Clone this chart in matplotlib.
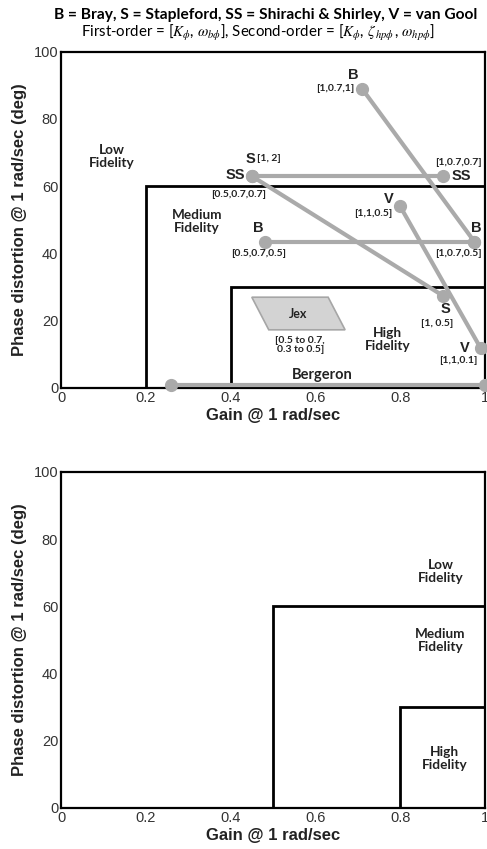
import numpy as np
import matplotlib
matplotlib.use('Agg')
import matplotlib.pyplot as plt
from matplotlib.patches import Polygon

plt.rcParams['mathtext.fontset'] = 'stix'

# Study results: first-order point (a) joined to second-order point (b)
study = ['Bray', 'Bray', 'Shirachi & Shirley', 'Stapleford', 'van Gool', 'Bergeron']
gain_a = [0.71, 0.48, 0.45, 0.45, 0.80, 0.26]
phase_a = [89.0, 43.5, 63.0, 63.0, 54.0, 0.8]
gain_b = [0.975, 0.975, 0.90, 0.90, 0.99, 1.0]
phase_b = [43.5, 43.5, 63.0, 27.5, 11.8, 0.8]

# Jex region (gain, phase)
jex_gain = [0.45, 0.63, 0.67, 0.49]
jex_phase = [27.0, 27.0, 17.3, 17.3]

# Fidelity boundaries [gain corner, phase corner] for each criteria set
top_bounds = [(0.2, 60), (0.4, 30)]
bottom_bounds = [(0.5, 60), (0.8, 30)]

x_ticks = [0, 0.2, 0.4, 0.6, 0.8, 1]
x_ticklabels = ['0', '0.2', '0.4', '0.6', '0.8', '1']
y_ticks = [0, 20, 40, 60, 80, 100]

# text labels: (text, x, y, size, font)
top_labels = [
    ('Low\nFidelity', 0.12, 68.7, 9.8, 'Lato'),
    ('Medium\nFidelity', 0.32, 49.4, 9.8, 'Lato'),
    ('High\nFidelity', 0.77, 14.3, 9.8, 'Lato'),
    ('Bergeron', 0.615, 4.0, 10.5, 'Lato'),
    ('Jex', 0.56, 22.0, 9, 'Lato'),
    ('[0.5 to 0.7,\n0.3 to 0.5]', 0.564, 12.8, 7.5, 'Lato'),
    ('B', 0.69, 93.2, 10.5, 'Liberation Sans'),
    ('[1,0.7,1]', 0.646, 89.2, 7.5, 'Lato'),
    ('S', 0.446, 68.2, 10.5, 'Liberation Sans'),
    ('[1, 2]', 0.49, 68.2, 7.5, 'Lato'),
    ('SS', 0.41, 63.2, 10.5, 'Liberation Sans'),
    ('[0.5,0.7,0.7]', 0.418, 57.4, 7.5, 'Lato'),
    ('[1,0.7,0.7]', 0.937, 67.2, 7.5, 'Lato'),
    ('SS', 0.945, 62.9, 10.5, 'Liberation Sans'),
    ('V', 0.772, 56.2, 10.5, 'Liberation Sans'),
    ('[1,1,0.5]', 0.737, 51.8, 7.5, 'Lato'),
    ('B', 0.465, 47.7, 10.5, 'Liberation Sans'),
    ('[0.5,0.7,0.5]', 0.465, 40.0, 7.5, 'Lato'),
    ('B', 0.98, 47.7, 10.5, 'Liberation Sans'),
    ('[1,0.7,0.5]', 0.937, 40.0, 7.5, 'Lato'),
    ('S', 0.906, 23.4, 10.5, 'Liberation Sans'),
    ('[1, 0.5]', 0.886, 19.3, 7.5, 'Lato'),
    ('V', 0.953, 12.0, 10.5, 'Liberation Sans'),
    ('[1,1,0.1]', 0.937, 8.1, 7.5, 'Lato'),
]
bottom_labels = [
    ('Low\nFidelity', 0.895, 70.3, 9.8, 'Lato'),
    ('Medium\nFidelity', 0.895, 49.8, 9.8, 'Lato'),
    ('High\nFidelity', 0.904, 14.6, 9.8, 'Lato'),
]

gray = '#aaaaaa'

fig = plt.figure(figsize=(4.87, 8.49), dpi=100)
ax1 = fig.add_axes([0.1253, 0.543, 0.8706, 0.3961])
ax2 = fig.add_axes([0.1253, 0.0483, 0.8706, 0.3958])


def setup_axes(ax, bounds, labels):
    ax.set_xlim(0, 1)
    ax.set_ylim(0, 100)
    ax.set_xticks(x_ticks)
    ax.set_xticklabels(x_ticklabels)
    ax.set_yticks(y_ticks)
    ax.tick_params(length=0, pad=2, labelsize=10.5, labelcolor='#333333')
    for t in ax.get_xticklabels() + ax.get_yticklabels():
        t.set_family('Liberation Sans')
    for s in ax.spines.values():
        s.set_linewidth(1.6)
        s.set_color('black')
    for gx, gy in bounds:
        ax.plot([gx, gx, 1], [0, gy, gy], color='black', lw=2.0, zorder=2,
                solid_joinstyle='miter')
    for txt, x, y, size, font in labels:
        ax.text(x, y, txt, ha='center', va='center', fontsize=size,
                fontweight='bold', family=font,
                color='#222222', linespacing=1.1, zorder=5)
    ax.set_xlabel('Gain @ 1 rad/sec', fontsize=12, fontweight='bold',
                  family='Liberation Sans', labelpad=2, color='#222222')
    ax.set_ylabel('Phase distortion @ 1 rad/sec (deg)', fontsize=12,
                  fontweight='bold', family='Liberation Sans', labelpad=5,
                  color='#222222')


setup_axes(ax1, top_bounds, top_labels)
setup_axes(ax2, bottom_bounds, bottom_labels)

# Jex parallelogram
ax1.add_patch(Polygon(np.column_stack([jex_gain, jex_phase]), closed=True,
                      facecolor='#d3d3d3', edgecolor='#a6a6a6', lw=1.2, zorder=3))

# study lines
for i in range(len(study)):
    ax1.plot([gain_a[i], gain_b[i]], [phase_a[i], phase_b[i]], color=gray,
             lw=3.0, marker='o', markersize=8.5, markeredgecolor=gray,
             markerfacecolor=gray, clip_on=False, zorder=4)

fig.text(0.545, 0.982, 'B = Bray, S = Stapleford, SS = Shirachi & Shirley, V = van Gool',
         ha='center', va='center', fontsize=11.2, fontweight='bold', family='Lato')
fig.text(0.53, 0.961,
         r'First-order = [$K_\phi$, $\omega_{b\phi}$], Second-order = [$K_\phi$, $\zeta_{\,hp\phi\,}$, $\omega_{hp\phi}$]',
         ha='center', va='center', fontsize=10.8, family='Lato')

fig.savefig('out.png', dpi=100)
